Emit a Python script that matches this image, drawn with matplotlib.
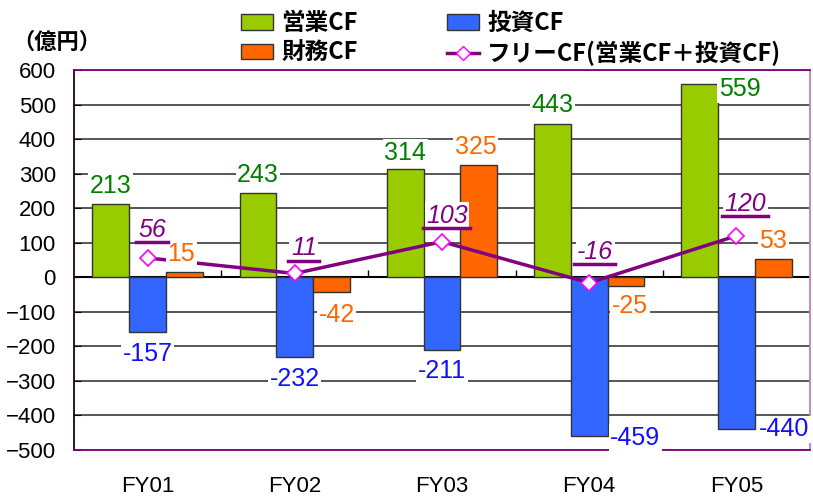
import numpy as np
import matplotlib
matplotlib.use('Agg')
import matplotlib.pyplot as plt
from matplotlib.patches import Patch
from matplotlib.lines import Line2D

# data (億円)
years = ['FY01', 'FY02', 'FY03', 'FY04', 'FY05']
operating_cf = [213, 243, 314, 443, 559]
investing_cf = [-157, -232, -211, -459, -440]
financing_cf = [15, -42, 325, -25, 53]
free_cf = [56, 11, 103, -16, 120]

# label offsets in pixels (dx, dy) from the bar end / point
op_off = [(0, 18), (0, 18), (0, 16), (0, 19), (40, -5)]
inv_off = [(0, -22), (0, -22), (0, -21), (46, -2), (48, 0)]
fin_off = [(-3, 18), (5, -23), (-3, 18), (4, -20), (0, 18)]
free_off = [(5, 28), (9, 25), (5, 26), (6, 31), (9, 32)]

NUM = ['Liberation Sans', 'DejaVu Sans']
JP = ['Noto Sans CJK JP', 'DejaVu Sans']

green = '#99CC00'
blue = '#3366FF'
orange = '#FF6600'
purple = '#800080'

fig = plt.figure(figsize=(8.13, 5.01), dpi=100)
ax = fig.add_axes([74 / 813, 1 - 450 / 501, 736 / 813, 380 / 501])

x = np.arange(len(years))
w = 0.25
ax.bar(x - w, operating_cf, w, color=green, edgecolor='#333333', linewidth=1, zorder=3)
ax.bar(x, investing_cf, w, color=blue, edgecolor='#333333', linewidth=1, zorder=3)
ax.bar(x + w, financing_cf, w, color=orange, edgecolor='#333333', linewidth=1, zorder=3)
ax.plot(x, free_cf, color=purple, lw=2.5, marker='D', ms=8, mfc='white', mec='#FF00FF', mew=1.2, zorder=5)

ax.set_xlim(-0.5, len(years) - 0.5)
ax.set_ylim(-500, 600)
ax.set_yticks(np.arange(-500, 601, 100))
ax.yaxis.grid(True, color='#3a3a3a', lw=1.2, zorder=0)
ax.axhline(0, color='black', lw=1.5, zorder=2)
# category boundary ticks on the zero line
ax.vlines(x[1:] - 0.5, 0, 20, color='black', lw=1, zorder=2)

ax.set_xticks(x)
ax.set_xticklabels(years, family=NUM, fontsize=16)
ax.tick_params(axis='x', length=0, pad=19)
ax.tick_params(axis='y', direction='in', length=5, pad=13)
for t in ax.get_yticklabels():
    t.set_family(NUM)
    t.set_fontsize(16)

ax.spines['left'].set_color('#200020')
ax.spines['top'].set_color(purple)
ax.spines['bottom'].set_color(purple)
ax.spines['right'].set_color('#C080C0')
for s in ax.spines.values():
    s.set_linewidth(1.3)
    s.set_zorder(6)

box = dict(facecolor='white', edgecolor='none', pad=1)


def label(xv, yv, text, off, color, style='normal'):
    return ax.annotate(text, (xv, yv), xytext=off, textcoords='offset pixels',
                       ha='center', va='center', color=color, fontsize=18,
                       family=NUM, style=style, bbox=box, zorder=7)


for i in range(len(years)):
    label(x[i] - w, operating_cf[i], str(operating_cf[i]), op_off[i], '#008000')
    label(x[i], investing_cf[i], str(investing_cf[i]), inv_off[i], '#1010FF')
    label(x[i] + w, financing_cf[i], str(financing_cf[i]), fin_off[i], orange)

free_labels = []
for i in range(len(years)):
    free_labels.append(label(x[i], free_cf[i], str(free_cf[i]), free_off[i], purple, 'italic'))

# underline for the free CF labels
fig.canvas.draw()
inv = fig.transFigure.inverted()
for t in free_labels:
    bb = t.get_window_extent()
    x0, y0 = inv.transform((bb.x0 - 3, bb.y0 - 0.5))
    x1, _ = inv.transform((bb.x1 + 2, bb.y0 - 0.5))
    fig.add_artist(Line2D([x0, x1], [y0, y0], color=purple, lw=2.5, zorder=8))

handles = [
    Patch(facecolor=green, edgecolor='#333333'),
    Patch(facecolor=orange, edgecolor='#333333'),
    Patch(facecolor=blue, edgecolor='#333333'),
    Line2D([], [], color=purple, lw=2.5, marker='D', ms=7, mfc='white', mec='#FF00FF'),
]
names = ['営業CF', '財務CF', '投資CF', 'フリーCF(営業CF＋投資CF)']
fig.legend(handles, names, loc='upper left', bbox_to_anchor=(241 / 813, 1 - 11 / 501),
           ncol=2, frameon=False, borderpad=0, borderaxespad=0,
           handlelength=1.35, handleheight=0.65, handletextpad=0.35,
           columnspacing=3.8, labelspacing=0.25,
           prop={'family': JP, 'size': 17, 'weight': 'bold'})

fig.text(12 / 813, 1 - 42 / 501, '（億円）', family=JP, fontsize=16, weight='bold', va='center')

fig.savefig('out.png', dpi=100)
